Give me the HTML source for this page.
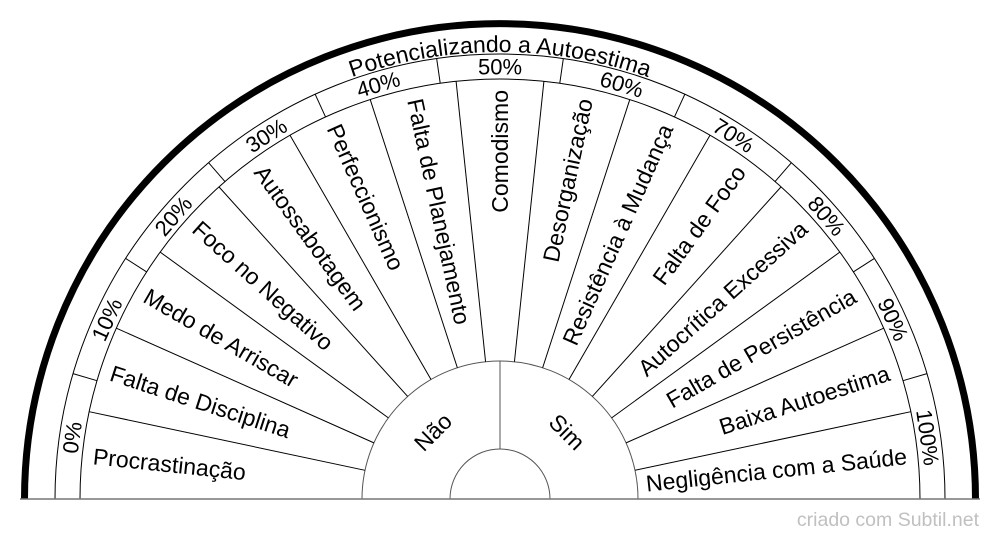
<!DOCTYPE html>
<html><head><meta charset="utf-8"><style>
html,body{margin:0;padding:0;background:#fff;width:1000px;height:540px;overflow:hidden}
svg text{font-family:"Liberation Sans",Arial,sans-serif;fill:#000}
</style></head><body>
<svg id="s" width="1000" height="540" viewBox="0 0 1000 540" xmlns="http://www.w3.org/2000/svg">
<defs><path id="tp" d="M 53 499 A 447 447 0 0 1 947 499" fill="none"/></defs>
<path d="M 24.5 499 A 475.5 475.5 0 0 1 975.5 499" fill="none" stroke="#000" stroke-width="7"/>
<path d="M 55 499 A 445 445 0 0 1 945 499" fill="none" stroke="#000" stroke-width="1"/>
<path d="M 80 499 A 420 420 0 0 1 920 499" fill="none" stroke="#000" stroke-width="1"/>
<path d="M 362 499 A 138 138 0 0 1 638 499" fill="none" stroke="#555" stroke-width="1"/>
<path d="M 450 499 A 50 50 0 0 1 550 499" fill="none" stroke="#555" stroke-width="1"/>
<line x1="500" y1="361" x2="500" y2="449" stroke="#555" stroke-width="1"/>
<line x1="20" y1="499" x2="980" y2="499" stroke="#777" stroke-width="1.5"/>
<text font-size="23"><textPath href="#tp" startOffset="50%" text-anchor="middle">Potencializando a Autoestima</textPath></text>
<text x="433" y="432" font-size="23" text-anchor="middle" dominant-baseline="central" transform="rotate(-45 433 432)">Não</text>
<text x="567" y="432" font-size="23" text-anchor="middle" dominant-baseline="central" transform="rotate(45 567 432)">Sim</text>
<text x="979" y="526" font-size="19.5" text-anchor="end" style="fill:#c0c0c0">criado com Subtil.net</text>
</svg>
<script>
var s=document.getElementById('s'),cx=500,cy=499,NS='http://www.w3.org/2000/svg';
function P(r,a){a=a*Math.PI/180;return [cx+r*Math.cos(a),cy-r*Math.sin(a)];}
function el(t,at,tx){var e=document.createElementNS(NS,t);for(var k in at)e.setAttribute(k,at[k]);if(tx)e.textContent=tx;s.appendChild(e);return e;}
var w=["Procrastinação","Falta de Disciplina","Medo de Arriscar","Foco no Negativo","Autossabotagem","Perfeccionismo","Falta de Planejamento","Comodismo","Desorganização","Resistência à Mudança","Falta de Foco","Autocrítica Excessiva","Falta de Persistência","Baixa Autoestima","Negligência com a Saúde"];
var n=w.length,st=180/n;
for(var k=1;k<n;k++){var a=180-k*st,p1=P(138,a),p2=P(420,a);el('line',{x1:p1[0],y1:p1[1],x2:p2[0],y2:p2[1],stroke:'#000','stroke-width':1});}
for(var i=0;i<n;i++){var a=180-(i+0.5)*st,p=P(409,a);
 if(a>90){el('text',{x:p[0],y:p[1],'font-size':23,'text-anchor':'start','dominant-baseline':'central',transform:'rotate('+(180-a)+' '+p[0]+' '+p[1]+')'},w[i]);}
 else{el('text',{x:p[0],y:p[1],'font-size':23,'text-anchor':'end','dominant-baseline':'central',transform:'rotate('+(-a)+' '+p[0]+' '+p[1]+')'},w[i]);}}
var m=11,ps=180/m;
for(var k=1;k<m;k++){var a=180-k*ps,p1=P(420,a),p2=P(445,a);el('line',{x1:p1[0],y1:p1[1],x2:p2[0],y2:p2[1],stroke:'#000','stroke-width':1});}
for(var i=0;i<m;i++){var a=180-(i+0.5)*ps,p=P(432,a);el('text',{x:p[0],y:p[1],'font-size':22,'text-anchor':'middle','dominant-baseline':'central',transform:'rotate('+(90-a)+' '+p[0]+' '+p[1]+')'},(i*10)+'%');}
</script>
</body></html>
